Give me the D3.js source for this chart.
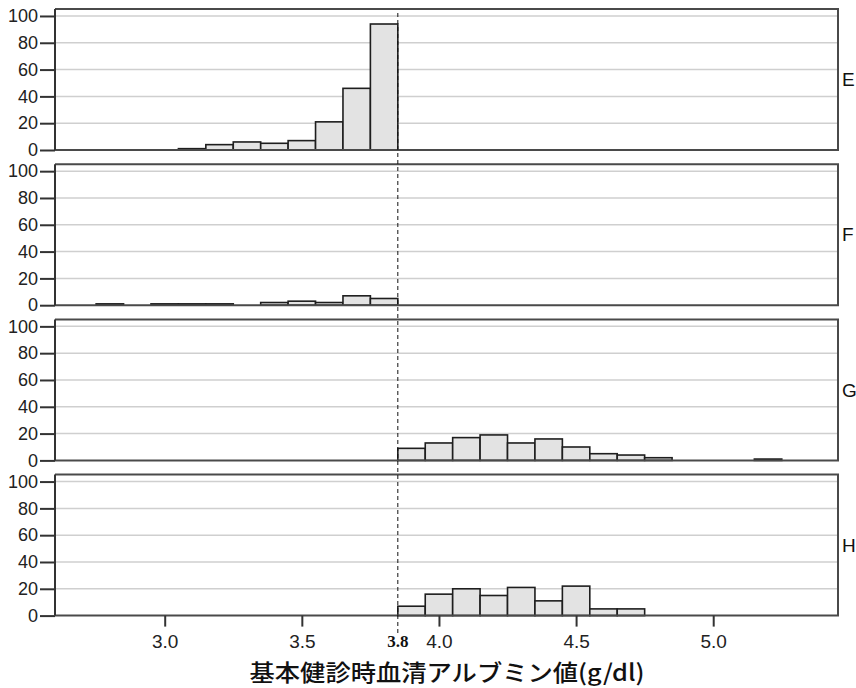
<!DOCTYPE html>
<html><head><meta charset="utf-8">
<script src="https://cdn.jsdelivr.net/npm/d3@7"></script>
<style>
html,body{margin:0;padding:0;background:#fff;}
svg{display:block;}
</style></head>
<body>
<script>
// ---- data ----
const albumin = [2.8,2.9,3.0,3.1,3.2,3.3,3.4,3.5,3.6,3.7,3.8,3.9,4.0,4.1,4.2,4.3,4.4,4.5,4.6,4.7,4.8,4.9,5.0,5.1,5.2];
const countsE = [0,0,0,1,4,6,5,7,21,46,94,0,0,0,0,0,0,0,0,0,0,0,0,0,0];
const countsF = [1,0,1,1,1,0,2,3,2,7,5,0,0,0,0,0,0,0,0,0,0,0,0,0,0];
const countsG = [0,0,0,0,0,0,0,0,0,0,0,9,13,17,19,13,16,10,5,4,2,0,0,0,1];
const countsH = [0,0,0,0,0,0,0,0,0,0,0,7,16,20,15,21,11,22,5,5,0,0,0,0,0];
const panelLabels = ["E","F","G","H"];
const yTicks = [0,20,40,60,80,100];
const xTicks = [3.0,3.5,4.0,4.5,5.0];
const cutoff = 3.85;
const cutoffLabel = "3.8";
const xTitle = "基本健診時血清アルブミン値(g/dl)";
const binWidth = 0.1;

const series = [countsE, countsF, countsG, countsH];

const W = 856, H = 688;
const left = 55, right = 838;
const panelTop0 = 9, panelStep = 155.2, panelH = 141;

const svg = d3.select("body").append("svg").attr("width", W).attr("height", H);

const x = d3.scaleLinear().domain([2.6, 5.455]).range([left, right]);
const font = "Liberation Sans, Arial, sans-serif";

series.forEach((counts, i) => {
  const top = panelTop0 + i * panelStep;
  const bottom = top + panelH;
  const y = d3.scaleLinear().domain([0, 105.2]).range([bottom, top]);
  const g = svg.append("g");

  // gridlines
  g.selectAll("line.grid").data(yTicks.filter(t => t > 0)).join("line")
    .attr("x1", left).attr("x2", right)
    .attr("y1", d => y(d)).attr("y2", d => y(d))
    .attr("stroke", "#cfcfcf").attr("stroke-width", 1.5);

  // bars
  const data = albumin.map((v, j) => ({v, c: counts[j]})).filter(d => d.c > 0);
  g.selectAll("rect.bar").data(data).join("rect")
    .attr("x", d => x(d.v - binWidth / 2))
    .attr("width", d => x(d.v + binWidth / 2) - x(d.v - binWidth / 2))
    .attr("y", d => y(d.c))
    .attr("height", d => y(0) - y(d.c))
    .attr("fill", "#e3e3e3").attr("stroke", "#1e1e1e").attr("stroke-width", 1.6);

  // frame: top, right, bottom
  g.append("path")
    .attr("d", `M${left},${top}H${right}V${bottom}H${left}`)
    .attr("fill", "none").attr("stroke", "#4a4a4a").attr("stroke-width", 2);

  // y axis
  const yAxis = d3.axisLeft(y).tickValues(yTicks).tickSize(15).tickPadding(2).tickFormat(d3.format("d"));
  const ya = g.append("g").attr("transform", `translate(${left},0)`).call(yAxis);
  ya.select(".domain").attr("stroke", "#333").attr("stroke-width", 2).attr("d", `M0,${top}V${bottom}`);
  ya.selectAll(".tick line").attr("stroke", "#333").attr("stroke-width", 2);
  ya.selectAll(".tick text").attr("font-family", font).attr("font-size", 18).attr("fill", "#222");

  // panel label
  g.append("text").attr("x", 842).attr("y", (top + bottom) / 2)
    .attr("dy", "0.35em").attr("font-family", font).attr("font-size", 19)
    .attr("fill", "#111").text(panelLabels[i]);

  if (i === series.length - 1) {
    const xAxis = d3.axisBottom(x).tickValues(xTicks).tickSize(11).tickPadding(8).tickFormat(d3.format(".1f"));
    const xa = g.append("g").attr("transform", `translate(0,${bottom})`).call(xAxis);
    xa.select(".domain").remove();
    xa.selectAll(".tick line").attr("stroke", "#333").attr("stroke-width", 2);
    xa.selectAll(".tick text").attr("font-family", font).attr("font-size", 19).attr("fill", "#222");
  }
});

// cutoff dashed line
svg.append("line")
  .attr("x1", x(cutoff)).attr("x2", x(cutoff))
  .attr("y1", 13).attr("y2", 633)
  .attr("stroke", "#111").attr("stroke-width", 1).attr("stroke-dasharray", "4,3");

svg.append("text").attr("x", x(cutoff)).attr("y", 647)
  .attr("text-anchor", "middle").attr("font-family", "Liberation Serif, Times New Roman, serif")
  .attr("font-weight", "bold").attr("font-size", 17).attr("fill", "#111").text(cutoffLabel);

// x title
svg.append("text").attr("x", 447).attr("y", 681)
  .attr("text-anchor", "middle").attr("font-family", "Noto Sans CJK JP, sans-serif")
  .attr("font-size", 23).attr("font-weight", 500).attr("fill", "#111")
  .attr("textLength", 395).attr("lengthAdjust", "spacingAndGlyphs")
  .text(xTitle);
</script>
</body></html>
